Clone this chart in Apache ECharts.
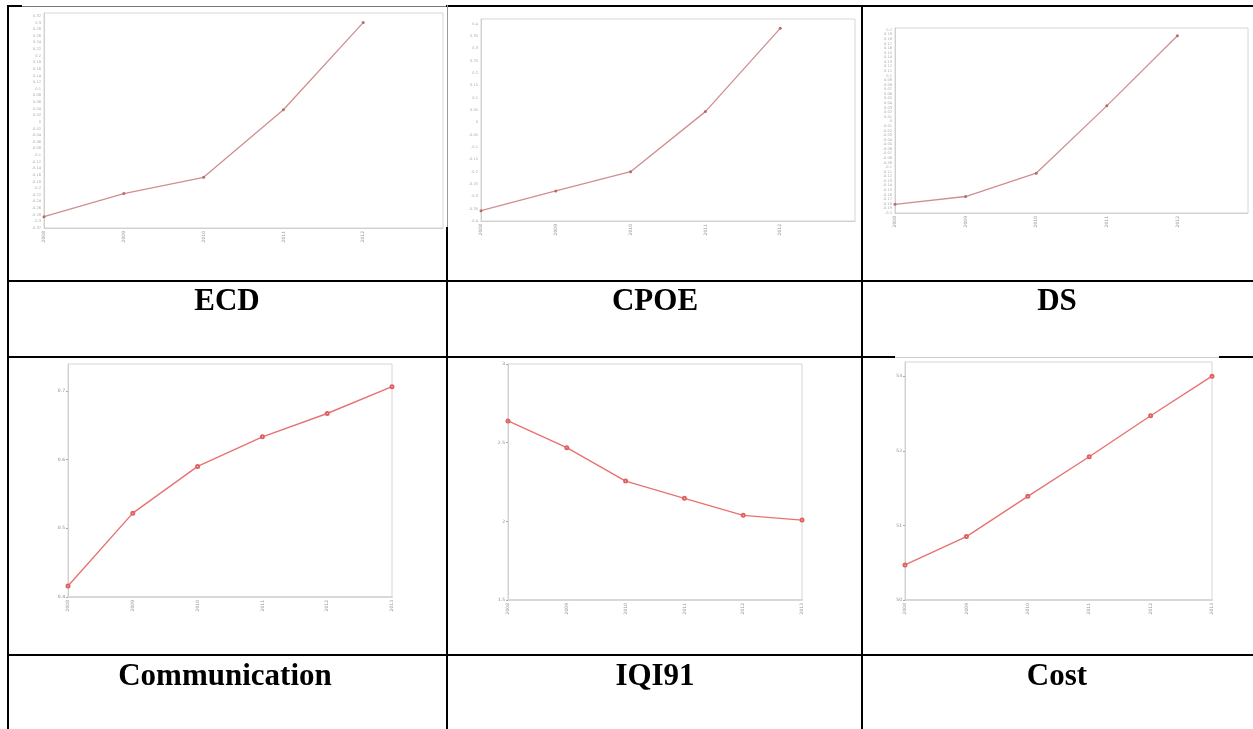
<!DOCTYPE html>
<html>
<head>
<meta charset="utf-8">
<script src="https://cdn.jsdelivr.net/npm/echarts@6/dist/echarts.min.js"></script>
<style>
html,body{margin:0;padding:0;background:#fff;}
#chart{width:1253px;height:729px;}
</style>
</head>
<body>
<div id="chart"></div>
<script>
// ---- data ----
const yearsTop = ['2008', '2009', '2010', '2011', '2012', ''];
const yearsBottom = ['2008', '2009', '2010', '2011', '2012', '2013'];
const ecd = [-0.286, -0.216, -0.167, 0.037, 0.300];
const cpoe = [-0.358, -0.278, -0.200, 0.044, 0.382];
const ds = [-0.181, -0.164, -0.113, 0.034, 0.187];
const communication = [0.416, 0.522, 0.590, 0.633, 0.667, 0.706];
const iqi91 = [2.638, 2.468, 2.256, 2.146, 2.038, 2.008];
const cost = [50.47, 50.85, 51.39, 51.92, 52.47, 53.00];
const panelNames = ['ECD', 'CPOE', 'DS', 'Communication', 'IQI91', 'Cost'];

// ---- layout / style ----
const panels = [
  {data: ecd, cats: yearsTop, grid: {left: 44, top: 13, width: 399, height: 215}, y: {min: -0.32, max: 0.329, interval: 0.02}, top: true},
  {data: cpoe, cats: yearsTop, grid: {left: 481, top: 19, width: 374, height: 202}, y: {min: -0.4, max: 0.42, interval: 0.05}, top: true},
  {data: ds, cats: yearsTop, grid: {left: 895, top: 28, width: 353, height: 185}, y: {min: -0.2, max: 0.204, interval: 0.01}, top: true},
  {data: communication, cats: yearsBottom, grid: {left: 68, top: 364, width: 324, height: 233}, y: {min: 0.4, max: 0.739, interval: 0.1}, top: false},
  {data: iqi91, cats: yearsBottom, grid: {left: 508, top: 364, width: 294, height: 236}, y: {min: 1.5, max: 3, interval: 0.5}, top: false},
  {data: cost, cats: yearsBottom, grid: {left: 905, top: 362, width: 307, height: 238}, y: {min: 50, max: 53.19, interval: 1}, top: false}
];
const labelCenters = [[227, 302], [655, 302], [1057, 302], [225, 677], [655, 677], [1057, 677]];

const grids = [], xAxes = [], yAxes = [], series = [];
panels.forEach((p, i) => {
  grids.push(Object.assign({show: true, borderColor: '#d6d6d6', borderWidth: 1, backgroundColor: '#fff', outerBoundsMode: 'none', containLabel: false}, p.grid));
  xAxes.push({
    type: 'category', gridIndex: i, data: p.cats, boundaryGap: false,
    axisLine: {show: true, onZero: false, lineStyle: {color: p.top ? '#d0d0d0' : '#d8d8d8', width: p.top ? 1 : 2}},
    axisTick: {show: false},
    axisLabel: {show: true, interval: 0, rotate: 90, fontSize: 4.5, color: '#999', margin: 3, fontFamily: 'DejaVu Sans'},
    splitLine: {show: false}
  });
  yAxes.push({
    type: 'value', gridIndex: i, min: p.y.min, max: p.y.max, interval: p.y.interval,
    axisLine: {show: true, onZero: false, lineStyle: {color: '#d0d0d0'}},
    axisTick: {show: !p.top, length: 2, lineStyle: {color: '#aaa'}},
    axisLabel: {show: true, fontSize: p.top ? 3.6 : 4.5, color: p.top ? '#aaa' : '#888', margin: 3, showMaxLabel: p.y.max === 3, fontFamily: 'DejaVu Sans'},
    splitLine: {show: false}
  });
  series.push({
    type: 'line', xAxisIndex: i, yAxisIndex: i, data: p.data,
    symbol: p.top ? 'circle' : 'emptyCircle', symbolSize: 3,
    lineStyle: {color: p.top ? '#cf8f8f' : '#e87272', width: p.top ? 1.3 : 1.4},
    itemStyle: {color: p.top ? '#b86b6b' : '#e06060', borderWidth: 1},
    animation: false, silent: true
  });
});

// table borders
function bar(x, y, w, h, c) {
  return {type: 'rect', shape: {x: x, y: y, width: w, height: h}, style: {fill: c || '#000'}, z: 100, silent: true};
}
const graphics = [
  bar(7, 5, 15, 2), bar(22, 6, 425, 1, '#777'), bar(446, 5, 807, 2),
  bar(7, 5, 2, 724),
  bar(446, 227, 2, 502), bar(447, 5, 1, 222, '#999'),
  bar(861, 5, 2, 724),
  bar(7, 280, 1246, 2),
  bar(7, 356, 888, 2), bar(895, 357, 324, 1, '#ccc'), bar(1219, 356, 34, 2),
  bar(7, 654, 1246, 2)
];
panelNames.forEach((n, i) => {
  graphics.push({
    type: 'text', x: labelCenters[i][0], y: labelCenters[i][1], z: 100, silent: true,
    style: {text: n, fontFamily: 'Liberation Serif', fontWeight: 'bold', fontSize: 31, fill: '#000', textAlign: 'center', textVerticalAlign: 'middle'}
  });
});

const chart = echarts.init(document.getElementById('chart'), null, {renderer: 'canvas'});
chart.setOption({
  animation: false,
  backgroundColor: '#fff',
  grid: grids,
  xAxis: xAxes,
  yAxis: yAxes,
  series: series,
  graphic: graphics
});
</script>
</body>
</html>
